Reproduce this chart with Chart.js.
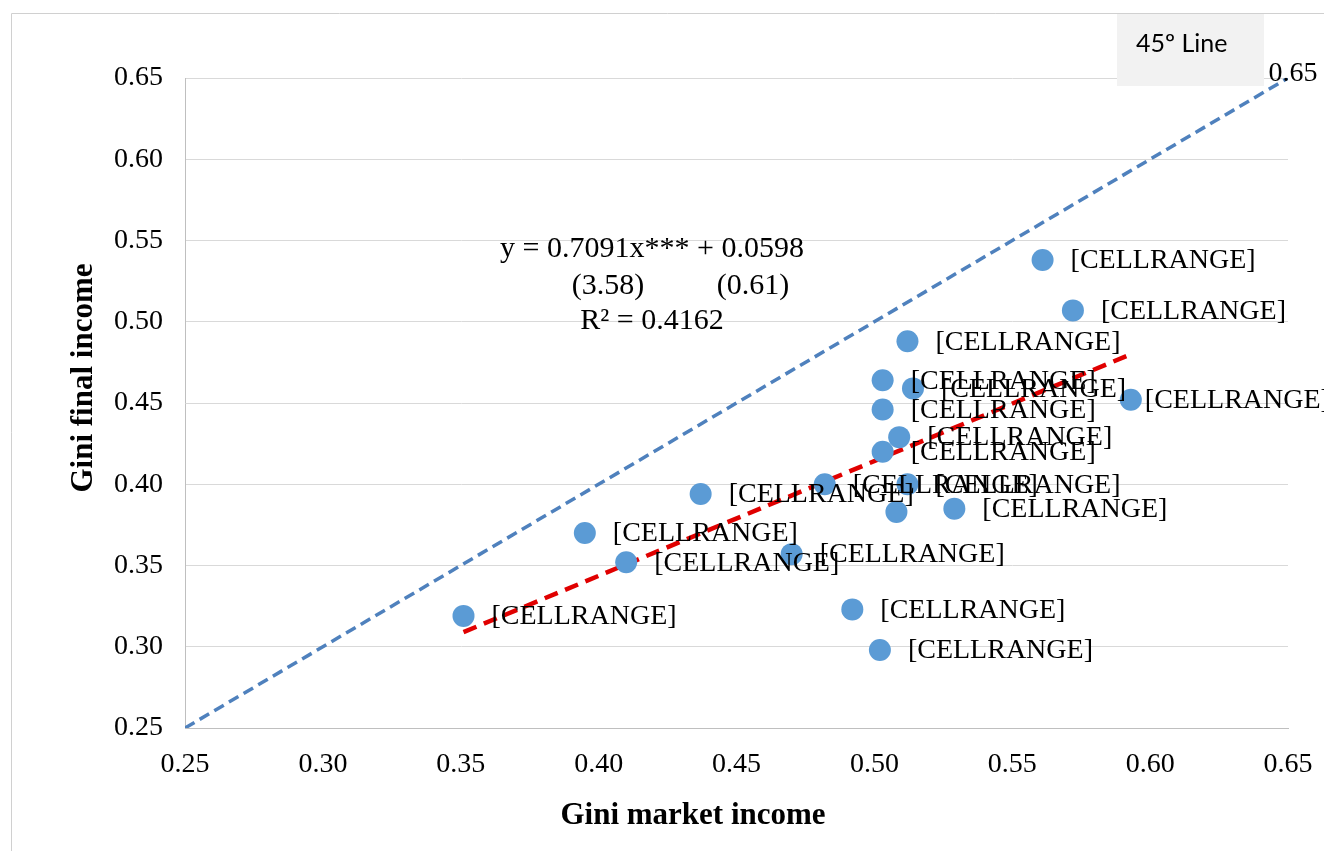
<!DOCTYPE html>
<html>
  <head>
    <title>Gini market vs final income</title>
    <script type="text/javascript" src="https://cdn.jsdelivr.net/npm/chart.js@4.4.1/dist/chart.umd.min.js"></script>
    <style>
      body { margin: 0; background: #fff; }
    </style>
  </head>
  <body>
    <canvas id="GiniChart" width="1324" height="851" style="display: block;"></canvas>
    <script>
      // values
      var marketGini = [0.561, 0.572, 0.512, 0.503, 0.514, 0.593, 0.503, 0.509, 0.503, 0.482,
                        0.512, 0.437, 0.508, 0.529, 0.395, 0.410, 0.470, 0.492, 0.502, 0.351];
      var finalGini  = [0.538, 0.507, 0.488, 0.464, 0.459, 0.452, 0.446, 0.429, 0.420, 0.400,
                        0.400, 0.394, 0.383, 0.385, 0.370, 0.352, 0.357, 0.323, 0.298, 0.319];
      var pointLabels = ['[CELLRANGE]', '[CELLRANGE]', '[CELLRANGE]', '[CELLRANGE]', '[CELLRANGE]',
                         '[CELLRANGE]', '[CELLRANGE]', '[CELLRANGE]', '[CELLRANGE]', '[CELLRANGE]',
                         '[CELLRANGE]', '[CELLRANGE]', '', '[CELLRANGE]', '[CELLRANGE]',
                         '[CELLRANGE]', '[CELLRANGE]', '[CELLRANGE]', '[CELLRANGE]', '[CELLRANGE]'];
      var trendX = [0.351, 0.593];
      var trendY = [0.309, 0.480];
      var diagX = [0.25, 0.65];
      var diagY = [0.25, 0.65];
      var tickValues = [0.25, 0.30, 0.35, 0.40, 0.45, 0.50, 0.55, 0.60, 0.65];
      var equationLines = ['y = 0.7091x*** + 0.0598', '(3.58)', '(0.61)', 'R\u00b2 = 0.4162'];

      function pairs(xs, ys) {
        return xs.map(function(x, i) { return {x: x, y: ys[i]}; });
      }

      var serif = '"Liberation Serif", "DejaVu Serif", serif';

      // free text, labels, frame and the legend box
      var extras = {
        id: 'extras',
        afterDraw: function(chart) {
          var ctx = chart.ctx;
          ctx.save();

          // outer frame
          ctx.strokeStyle = '#d0d0d0';
          ctx.lineWidth = 1;
          ctx.beginPath();
          ctx.moveTo(11.5, 851);
          ctx.lineTo(11.5, 13.5);
          ctx.lineTo(1324, 13.5);
          ctx.stroke();

          // point labels
          ctx.fillStyle = '#000';
          ctx.font = '28px ' + serif;
          ctx.textAlign = 'left';
          ctx.textBaseline = 'middle';
          var meta = chart.getDatasetMeta(0);
          meta.data.forEach(function(pt, i) {
            var dx = (i === 5) ? 14 : 28;
            if (pointLabels[i]) ctx.fillText(pointLabels[i], pt.x + dx, pt.y + 1);
          });

          // label at the end of the 45 degree line
          var end = chart.getDatasetMeta(2).data[1];
          ctx.textAlign = 'center';
          ctx.fillText(diagY[1].toFixed(2), end.x + 5, end.y - 4);

          // regression equation
          ctx.font = '30px ' + serif;
          ctx.fillText(equationLines[0], 652, 249);
          ctx.fillText(equationLines[1], 608, 286);
          ctx.fillText(equationLines[2], 753, 286);
          ctx.fillText(equationLines[3], 652, 321);

          // axis titles
          ctx.font = 'bold 31px ' + serif;
          ctx.fillText('Gini market income', 693, 816);
          ctx.save();
          ctx.translate(84, 378);
          ctx.rotate(-Math.PI / 2);
          ctx.fillText('Gini final income', 0, 0);
          ctx.restore();

          // legend box
          ctx.fillStyle = '#f2f2f2';
          ctx.fillRect(1117, 14, 147, 72);
          ctx.fillStyle = '#000';
          ctx.font = '25px Lato, "Open Sans", sans-serif';
          ctx.textAlign = 'left';
          ctx.fillText('45\u00ba Line', 1136, 44);

          ctx.restore();
        }
      };

      var ctx = document.getElementById('GiniChart').getContext('2d');
      var chart = new Chart(ctx, {
        type: 'scatter',
        data: {
          datasets: [{
              label: 'Countries',
              data: pairs(marketGini, finalGini),
              backgroundColor: '#5b9bd5',
              borderWidth: 0,
              pointRadius: 11,
              pointHoverRadius: 11,
              order: 1
            },
            {
              label: 'Linear fit',
              type: 'line',
              data: pairs(trendX, trendY),
              borderColor: '#e00000',
              borderWidth: 4.5,
              borderDash: [14, 8],
              pointRadius: 0,
              fill: false,
              order: 2
            },
            {
              label: '45\u00ba Line',
              type: 'line',
              data: pairs(diagX, diagY),
              borderColor: '#4f81bd',
              borderWidth: 3.5,
              borderDash: [11, 6],
              pointRadius: 0,
              fill: false,
              order: 3
            }
          ]
        },
        options: {
          responsive: false,
          animation: false,
          layout: {
            padding: {left: 0, top: 78, right: 36, bottom: 0}
          },
          plugins: {
            legend: {display: false},
            tooltip: {enabled: false}
          },
          scales: {
            x: {
              type: 'linear',
              min: 0.25,
              max: 0.65,
              afterFit: function(scale) {
                scale.height = 123;
                scale.paddingLeft = 0;
                scale.paddingRight = 0;
              },
              afterBuildTicks: function(scale) {
                scale.ticks = tickValues.map(function(v) { return {value: v}; });
              },
              ticks: {
                callback: function(v) { return v.toFixed(2); },
                color: '#000',
                padding: 20,
                maxRotation: 0,
                font: {family: serif, size: 28}
              },
              grid: {display: false, drawTicks: false},
              border: {color: '#bfbfbf', width: 1}
            },
            y: {
              type: 'linear',
              min: 0.25,
              max: 0.65,
              afterFit: function(scale) { scale.width = 185; },
              afterBuildTicks: function(scale) {
                scale.ticks = tickValues.map(function(v) { return {value: v}; });
              },
              ticks: {
                callback: function(v) { return v.toFixed(2); },
                color: '#000',
                padding: 22,
                font: {family: serif, size: 28}
              },
              grid: {color: '#d9d9d9', drawTicks: false},
              border: {color: '#bfbfbf', width: 1}
            }
          }
        },
        plugins: [extras]
      });
    </script>
  </body>
</html>
